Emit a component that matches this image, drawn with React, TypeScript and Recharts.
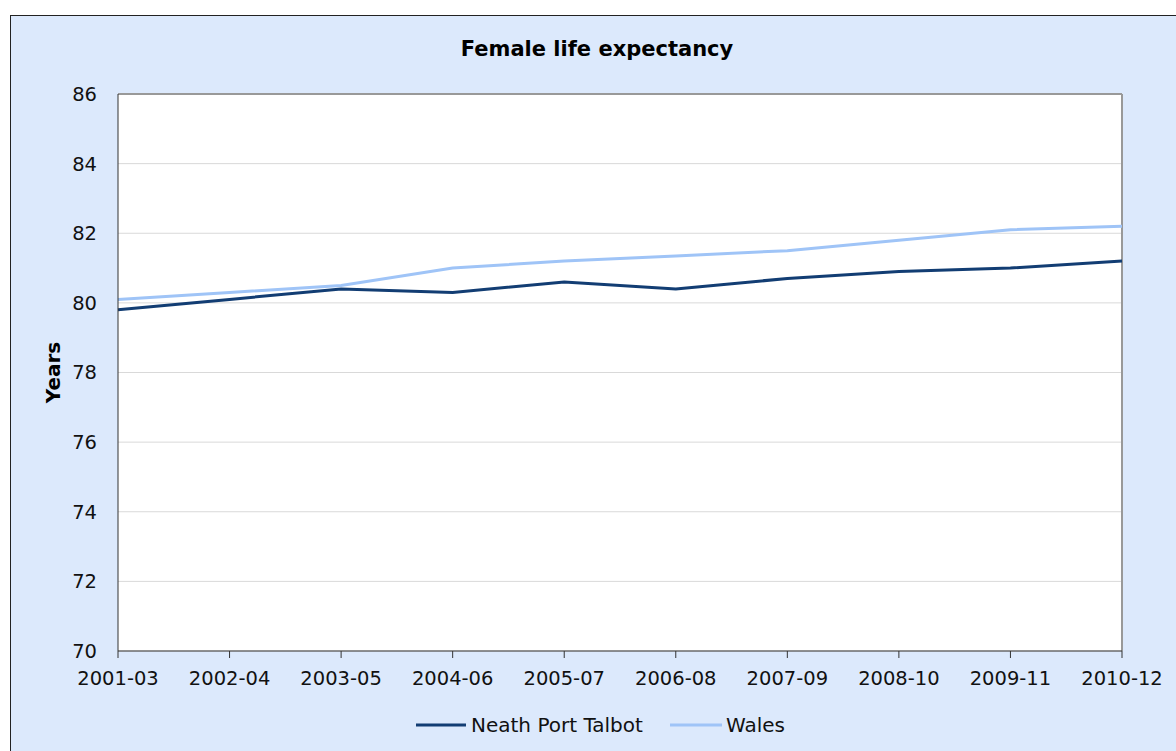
import { LineChart, Line, XAxis, YAxis, CartesianGrid, ReferenceLine } from "recharts";

const periods = ['2001-03', '2002-04', '2003-05', '2004-06', '2005-07', '2006-08', '2007-09', '2008-10', '2009-11', '2010-12'];
const neathPortTalbot = [79.8, 80.1, 80.4, 80.3, 80.6, 80.4, 80.7, 80.9, 81.0, 81.2];
const wales = [80.1, 80.3, 80.5, 81.0, 81.2, 81.35, 81.5, 81.8, 82.1, 82.2];
const yTicks = [70, 72, 74, 76, 78, 80, 82, 84, 86];

const NPT_COLOR = '#123d73';
const WALES_COLOR = '#9fc4f7';
const FONT = "'DejaVu Sans', sans-serif";

const data = periods.map((p, i) => ({ period: p, npt: neathPortTalbot[i], wales: wales[i] }));

export default function App() {
  return (
    <div style={{ fontFamily: FONT }}>
      <div
        style={{
          position: 'absolute', left: 10, top: 15, width: 1166, height: 736,
          boxSizing: 'border-box', background: '#dce9fc',
          borderTop: '1px solid #222', borderLeft: '1px solid #222',
        }}
      />
      <div
        style={{
          position: 'absolute', left: 0, top: 37, width: 1194, textAlign: 'center',
          fontWeight: 'bold', fontSize: 21, color: '#000',
        }}
      >
        Female life expectancy
      </div>

      <div style={{ position: 'absolute', left: 0, top: 0, width: 1176, height: 751 }}>
        <LineChart width={1176} height={751} data={data} margin={{ top: 94, right: 54, bottom: 60, left: 48 }}>
          <CartesianGrid vertical={false} stroke="#d9d9d9" fill="#fff" />
          <XAxis
            dataKey="period"
            interval={0}
            height={40}
            stroke="#333"
            tickSize={7}
            tickMargin={13}
            tick={{ fill: '#111', fontSize: 19.5, fontFamily: FONT }}
          />
          <YAxis
            domain={[70, 86]}
            ticks={yTicks}
            width={70}
            stroke="#333"
            tickLine={false}
            tickSize={0}
            tickMargin={21}
            tick={{ fill: '#111', fontSize: 19.5, fontFamily: FONT }}
            label={{
              value: 'Years', angle: -90, position: 'insideLeft', offset: 5,
              style: { fontWeight: 'bold', fontSize: 20, fill: '#000', fontFamily: FONT, textAnchor: 'middle' },
            }}
          />
          <ReferenceLine y={86} stroke="#999" strokeWidth={2} />
          <ReferenceLine x="2010-12" stroke="#999" strokeWidth={2} />
          <Line type="linear" dataKey="wales" stroke={WALES_COLOR} strokeWidth={3} dot={false} isAnimationActive={false} />
          <Line type="linear" dataKey="npt" stroke={NPT_COLOR} strokeWidth={3} dot={false} isAnimationActive={false} />
        </LineChart>
      </div>

      <div
        style={{
          position: 'absolute', left: 416, top: 713, display: 'flex', alignItems: 'center',
          fontSize: 20, color: '#111', whiteSpace: 'nowrap',
        }}
      >
        <svg width={50} height={6} style={{ marginRight: 5 }}>
          <line x1={0} y1={3} x2={50} y2={3} stroke={NPT_COLOR} strokeWidth={3} />
        </svg>
        <span>Neath Port Talbot</span>
        <svg width={52} height={6} style={{ marginLeft: 27, marginRight: 4 }}>
          <line x1={0} y1={3} x2={52} y2={3} stroke={WALES_COLOR} strokeWidth={3} />
        </svg>
        <span>Wales</span>
      </div>
    </div>
  );
}
